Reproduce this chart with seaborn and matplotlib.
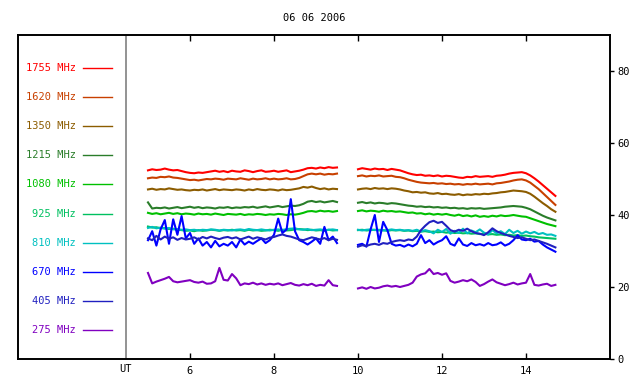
import numpy as np
import pandas as pd
import matplotlib

matplotlib.use("Agg")
import matplotlib.pyplot as plt
import matplotlib.transforms as mtransforms
import seaborn as sns

# frequencies (MHz) and trace colours, top to bottom as in the legend
freqs = ["1755", "1620", "1350", "1215", "1080", "925", "810", "670", "405", "275"]
colors = ["#ff0000", "#c84000", "#8c5c00", "#2a7d2a", "#00c000",
          "#00c060", "#00c0c0", "#0000ff", "#2020c0", "#8000c0"]

# sampling times (UT hours) of the two observing runs
t_am = np.round(np.arange(5.0, 9.55, 0.1), 1)
t_pm = np.round(np.arange(10.0, 14.75, 0.1), 1)

# flux values, morning run then afternoon run
f1755_am = [52.4, 52.7, 52.5, 52.6, 52.9, 52.6, 52.4, 52.5, 52.2, 51.9,
            51.7, 51.6, 51.8, 51.7, 51.9, 52.1, 52.3, 52.0, 52.2, 51.9,
            52.3, 52.1, 52.0, 52.4, 52.2, 51.9, 52.2, 52.4, 52.0, 52.1,
            52.3, 52.0, 52.2, 52.4, 51.9, 52.1, 52.3, 52.6, 53.0, 53.1,
            52.9, 53.2, 53.0, 53.3, 53.1, 53.2]
f1755_pm = [52.7, 53.0, 52.8, 52.6, 52.9, 52.7, 52.8, 52.5, 52.8, 52.6,
            52.4, 52.0, 51.6, 51.3, 51.1, 51.2, 50.9, 51.0, 50.8, 51.0,
            50.7, 50.9, 50.8, 50.6, 50.4, 50.3, 50.6, 50.5, 50.8, 50.6,
            50.7, 50.8, 50.6, 50.9, 51.0, 51.2, 51.5, 51.7, 51.8, 51.9,
            51.6, 51.0, 50.2, 49.3, 48.3, 47.3, 46.3, 45.3]

f1620_am = [50.2, 50.4, 50.3, 50.6, 50.5, 50.7, 50.4, 50.3, 50.1, 49.9,
            49.7, 49.8, 49.6, 49.8, 50.0, 49.9, 50.1, 50.0, 49.8, 50.1,
            50.0, 49.9, 50.2, 50.0, 49.8, 50.1, 49.9, 50.0, 50.2, 49.9,
            50.1, 49.9, 50.0, 50.2, 49.9, 50.0, 50.3, 50.8, 51.3, 51.5,
            51.3, 51.5, 51.2, 51.4, 51.3, 51.5]
f1620_pm = [50.8, 51.0, 50.7, 50.9, 50.8, 51.0, 50.7, 50.8, 50.9, 50.6,
            50.5, 50.2, 49.8, 49.5, 49.2, 49.0, 48.9, 48.8, 48.9, 48.7,
            48.8, 48.6, 48.7, 48.5, 48.6, 48.4, 48.6, 48.5, 48.7, 48.5,
            48.6, 48.7, 48.5, 48.8, 48.9, 49.1, 49.3, 49.6, 49.8, 49.9,
            49.6, 49.0, 48.1, 47.2, 46.1, 45.0, 43.9, 42.8]

f1350_am = [47.1, 47.3, 47.0, 47.2, 47.1, 47.4, 47.2, 47.0, 47.1, 46.9,
            46.8, 47.0, 46.9, 47.1, 46.8, 47.0, 47.2, 46.9, 47.1, 47.0,
            46.9, 47.1, 47.0, 46.8, 47.1, 46.9, 47.2, 47.0, 46.9, 47.1,
            47.0, 46.8, 47.1, 46.9, 47.0, 47.2, 47.4, 47.8, 47.6, 47.9,
            47.5, 47.2, 47.4, 47.1, 47.3, 47.2]
f1350_pm = [47.1, 47.3, 47.4, 47.2, 47.5, 47.3, 47.4, 47.2, 47.4, 47.3,
            47.1, 46.8, 46.6, 46.3, 46.4, 46.2, 46.3, 46.0, 45.9, 46.1,
            45.8, 45.9, 45.7, 45.6, 45.8, 45.5, 45.7, 45.6, 45.8, 45.7,
            45.9, 45.8, 46.0, 46.1, 46.3, 46.4, 46.6, 46.8, 46.7, 46.6,
            46.4, 45.9, 45.1, 44.2, 43.3, 42.5, 41.6, 40.9]

f1215_am = [43.5, 41.8, 42.0, 41.9, 42.1, 41.8, 42.0, 42.2, 41.9, 42.1,
            42.3, 42.0, 42.2, 41.9, 42.1, 42.0, 41.8, 42.1, 42.0, 42.2,
            41.9, 42.1, 42.0, 42.2, 42.1, 42.3, 42.0, 42.2, 42.4, 42.1,
            42.3, 42.5, 42.2, 42.4, 42.6, 42.5, 42.7, 43.1, 43.7, 43.9,
            43.6, 43.8, 43.5, 43.7, 43.9, 43.6]
f1215_pm = [43.4, 43.6, 43.3, 43.5, 43.2, 43.4, 43.3, 43.1, 43.3, 43.2,
            43.0, 42.8, 42.6, 42.5, 42.3, 42.4, 42.2, 42.3, 42.1, 42.2,
            42.0, 42.1, 41.9, 42.0, 41.8, 41.9, 41.7, 41.9, 41.8, 41.9,
            41.7, 41.8, 41.9, 42.0, 42.1, 42.3, 42.4, 42.5, 42.4, 42.3,
            42.0, 41.6, 41.0, 40.4, 39.8, 39.3, 38.9, 38.5]

f1080_am = [40.6, 40.3, 40.5, 40.2, 40.4, 40.6, 40.3, 40.5, 40.2, 40.4,
            40.3, 40.1, 40.4, 40.2, 40.3, 40.1, 40.4, 40.2, 40.0, 40.3,
            40.2, 40.1, 40.3, 40.0, 40.2, 40.1, 40.3, 40.2, 40.0, 40.2,
            40.1, 40.3, 40.2, 40.0, 40.2, 40.1, 40.3, 40.6, 41.0, 41.1,
            40.9, 41.2, 41.0, 41.1, 40.9, 41.1]
f1080_pm = [41.1, 41.3, 41.0, 41.2, 41.1, 40.9, 41.2, 41.0, 41.1, 40.9,
            41.0, 40.8, 40.6, 40.7, 40.4, 40.5, 40.2, 40.4, 40.1, 40.3,
            40.1, 40.3, 40.0, 39.8, 40.1, 39.7, 39.9, 39.6, 39.9, 39.5,
            39.7, 39.5, 39.8, 39.6, 39.9, 39.7, 39.8, 40.0, 39.8, 39.6,
            39.5, 39.1, 38.7, 38.3, 37.9, 37.5, 37.2, 36.9]

f925_am = [36.8, 36.5, 36.6, 36.3, 36.4, 36.1, 36.2, 35.9, 35.8, 35.6,
           35.7, 35.5, 35.8, 35.6, 35.7, 35.9, 35.8, 35.6, 35.8, 35.7,
           35.9, 35.7, 35.8, 35.6, 35.9, 35.7, 35.8, 35.6, 35.7, 35.9,
           35.8, 35.6, 35.9, 35.7, 35.8, 36.0, 36.1, 36.0, 35.8, 35.9,
           35.7, 35.8, 35.6, 35.9, 35.7, 35.8]
f925_pm = [35.8, 35.9, 35.7, 35.8, 35.9, 35.7, 35.8, 35.6, 35.8, 35.7,
           35.8, 35.6, 35.7, 35.5, 35.6, 35.4, 35.5, 35.3, 35.4, 35.2,
           35.3, 35.1, 35.2, 35.0, 35.1, 34.9, 35.0, 34.8, 34.9, 34.7,
           34.8, 34.6, 34.7, 34.5, 34.6, 34.4, 34.5, 34.3, 34.4, 34.2,
           34.3, 34.1, 34.0, 33.8, 33.7, 33.6, 33.5, 33.4]

f810_am = [36.4, 36.7, 36.3, 36.5, 36.2, 36.4, 36.0, 36.1, 35.9, 36.0,
           35.8, 35.9, 35.7, 35.9, 35.8, 36.0, 35.9, 35.7, 35.9, 35.8,
           35.7, 35.9, 36.0, 35.8, 36.1, 35.9, 35.8, 36.0, 35.8, 35.7,
           35.9, 36.0, 35.8, 36.1, 36.2, 36.3, 36.0, 35.9, 36.1, 35.8,
           35.9, 36.0, 35.8, 35.9, 36.0, 35.8]
f810_pm = [35.9, 35.7, 35.9, 36.0, 35.8, 35.9, 35.7, 35.8, 36.0, 35.8,
           35.9, 35.7, 35.8, 35.6, 35.9, 35.4, 35.8, 35.5, 34.9, 35.9,
           35.3, 36.1, 34.8, 35.6, 35.0, 36.2, 34.9, 35.7, 35.2, 36.0,
           35.1, 34.6, 35.8, 34.9, 35.5, 34.7, 35.9, 35.0, 35.6, 34.8,
           35.4, 34.9, 35.3, 34.7, 35.0, 34.5, 34.6, 34.2]

f670_am = [33.0, 35.5, 31.5, 36.0, 38.6, 32.0, 38.8, 34.5, 39.7, 33.5,
           35.0, 32.0, 33.5, 31.5, 32.5, 31.0, 32.8, 31.3, 32.0, 31.5,
           32.5, 31.0, 33.2, 31.8, 32.6, 32.0, 32.8, 33.5, 32.2, 33.0,
           34.5, 39.0, 35.0, 36.0, 44.4, 35.5, 33.0, 32.5, 31.8, 32.6,
           33.5, 32.0, 36.7, 33.0, 34.0, 32.2]
f670_pm = [31.7, 32.0, 31.2, 36.0, 40.0, 32.5, 38.1, 35.8, 32.0, 31.5,
           31.7, 31.2, 31.8, 31.3, 32.0, 34.4, 32.2, 33.0, 31.8, 32.5,
           33.0, 34.1, 32.0, 31.5, 33.5, 31.8, 31.4, 32.2, 31.6, 31.9,
           31.5, 32.2, 31.6, 31.8, 32.4, 31.5, 32.0, 33.0, 34.4, 33.2,
           33.0, 33.4, 32.6, 32.8, 31.8, 31.0, 30.4, 29.8]

f405_am = [33.5, 33.0, 34.2, 33.2, 34.0, 33.4, 33.8, 33.1, 33.6, 33.2,
           33.4, 33.8, 33.2, 33.9, 33.5, 34.0, 33.6, 33.3, 33.7, 33.9,
           33.5, 33.8, 33.2, 33.6, 34.0, 33.4, 33.8, 33.5, 33.2, 33.7,
           33.9, 34.3, 34.6, 34.2, 34.0, 33.6, 33.2, 33.0, 33.4, 33.8,
           33.5, 33.2, 33.6, 33.0, 33.4, 33.1]
f405_pm = [31.2, 31.6, 31.4, 31.8, 32.0, 31.7, 32.2, 32.0, 32.5, 32.8,
           33.0, 32.8, 33.2, 33.0, 34.0, 35.8, 37.0, 38.0, 38.4, 37.8,
           38.1, 37.0, 35.8, 35.4, 35.9, 35.6, 36.2, 35.5, 35.0, 34.8,
           34.4, 35.2, 36.3, 35.5, 35.0, 34.6, 34.2, 33.9, 33.6, 33.8,
           33.4, 33.0, 33.2, 32.8, 32.4, 32.0, 31.5, 31.0]

f275_am = [23.9, 21.0, 21.5, 21.9, 22.3, 22.8, 21.6, 21.3, 21.5, 21.7,
           21.9, 21.4, 21.2, 21.5, 20.9, 21.0, 21.6, 25.3, 22.0, 21.8,
           23.6, 22.4, 20.5, 21.0, 20.8, 21.2, 20.7, 21.0, 20.6, 20.9,
           20.7, 21.0, 20.5, 20.8, 21.1, 20.6, 20.4, 20.8, 20.5, 20.9,
           20.3, 20.6, 20.4, 21.9, 20.5, 20.3]
f275_pm = [19.6, 19.9, 19.5, 20.0, 19.6, 19.8, 20.2, 20.4, 20.1, 20.3,
           20.0, 20.3, 20.6, 21.2, 22.9, 23.5, 23.8, 25.0, 23.6, 23.9,
           23.4, 23.8, 21.7, 21.2, 21.5, 21.9, 21.6, 22.1, 21.4, 20.3,
           20.8, 21.5, 22.1, 21.3, 20.9, 20.5, 20.8, 21.2, 20.7, 21.0,
           21.2, 23.6, 20.6, 20.4, 20.7, 20.9, 20.3, 20.6]

runs = {
    "1755": (f1755_am, f1755_pm), "1620": (f1620_am, f1620_pm),
    "1350": (f1350_am, f1350_pm), "1215": (f1215_am, f1215_pm),
    "1080": (f1080_am, f1080_pm), "925": (f925_am, f925_pm),
    "810": (f810_am, f810_pm), "670": (f670_am, f670_pm),
    "405": (f405_am, f405_pm), "275": (f275_am, f275_pm),
}

frames = []
for freq, (am, pm) in runs.items():
    frames.append(pd.DataFrame({"UT": t_am, "flux": am, "MHz": freq, "run": 0}))
    frames.append(pd.DataFrame({"UT": t_pm, "flux": pm, "MHz": freq, "run": 1}))
df = pd.concat(frames, ignore_index=True)

mono = "DejaVu Sans Mono"
sep_x = 4.47

fig = plt.figure(figsize=(6.4, 3.84), dpi=100)
ax = fig.add_axes([18 / 640, 25 / 384, 592 / 640, 324 / 384])

sns.lineplot(data=df, x="UT", y="flux", hue="MHz", units="run", estimator=None,
             palette=dict(zip(freqs, colors)), hue_order=freqs, legend=False,
             linewidth=1.5, sort=False, ax=ax)

ax.set_xlim(1.905, 16.0)
ax.set_ylim(0, 90)
ax.set_xlabel("")
ax.set_ylabel("")
for s in ax.spines.values():
    s.set_linewidth(1.4)
    s.set_color("black")
ax.axvline(sep_x, color="#808080", lw=1.2)

ax.set_xticks([6, 8, 10, 12, 14])
ax.tick_params(axis="x", direction="in", length=4, width=1, top=True, bottom=True,
               labelsize=7.5, pad=5)
ax.yaxis.tick_right()
ax.set_yticks([0, 20, 40, 60, 80])
ax.tick_params(axis="y", direction="out", length=3, width=1, labelsize=7.5, pad=2)
for lab in ax.get_xticklabels() + ax.get_yticklabels():
    lab.set_family(mono)

# legend panel on the left
for i, (freq, col) in enumerate(zip(freqs, colors)):
    y = 0.898 - i * 0.0898
    ax.text(0.098, y, f"{freq} MHz", transform=ax.transAxes, ha="right", va="center",
            color=col, fontsize=7.5, family=mono)
    ax.plot([0.110, 0.159], [y, y], transform=ax.transAxes, color=col, lw=1)

trans = mtransforms.blended_transform_factory(ax.transData, ax.transAxes)
ax.text(sep_x, -0.032, "UT", transform=trans, ha="center", va="center",
        fontsize=7.5, family=mono)

fig.text(314 / 640, 1 - 18 / 384, "06 06 2006", ha="center", va="center",
         fontsize=7.5, family=mono)

fig.savefig("out.png", dpi=100)
plt.close(fig)
